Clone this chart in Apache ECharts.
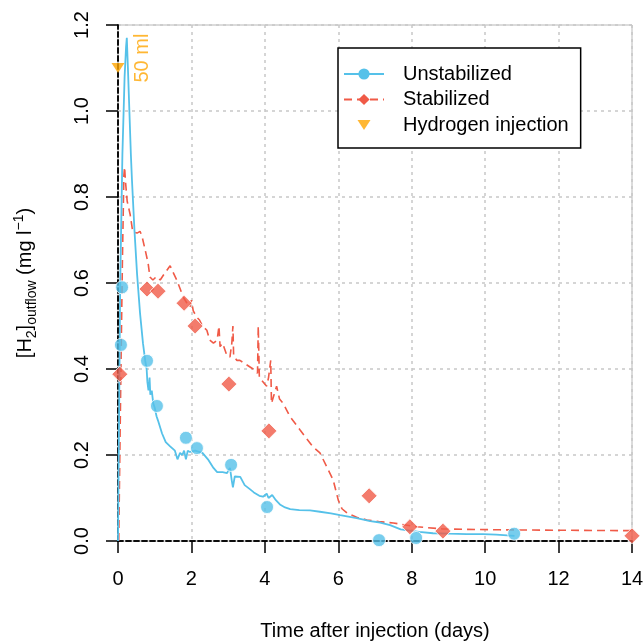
<!DOCTYPE html>
<html>
<head>
<meta charset="utf-8">
<script src="https://cdn.jsdelivr.net/npm/echarts@6/dist/echarts.min.js"></script>
<style>html,body{margin:0;padding:0;background:#fff}#c{width:644px;height:641px}</style>
</head>
<body>
<div id="c"></div>
<script>
// ---- data ----
const xTicks = [0, 2, 4, 6, 8, 10, 12, 14];
const yTickLabels = ['0.0', '0.2', '0.4', '0.6', '0.8', '1.0', '1.2'];

const unstabLine = [
  [0,0],[0.02,0.2],[0.06,0.6],[0.12,0.9],[0.18,1.08],[0.22,1.15],[0.24,1.17],[0.27,1.1],[0.31,1.0],
  [0.35,0.9],[0.38,0.84],[0.45,0.72],[0.52,0.62],[0.6,0.53],[0.68,0.46],[0.74,0.42],[0.78,0.40],
  [0.8,0.37],[0.83,0.35],[0.86,0.38],[0.88,0.34],[0.92,0.35],[0.96,0.32],[1.0,0.31],[1.05,0.29],
  [1.09,0.28],[1.2,0.25],[1.3,0.23],[1.42,0.22],[1.55,0.21],[1.62,0.19],[1.69,0.205],[1.75,0.2],
  [1.8,0.21],[1.85,0.19],[1.9,0.21],[1.96,0.207],[2.1,0.21],[2.3,0.205],[2.45,0.19],[2.6,0.17],
  [2.7,0.16],[2.85,0.16],[2.97,0.158],[3.05,0.17],[3.1,0.14],[3.13,0.125],[3.18,0.15],[3.33,0.149],
  [3.45,0.13],[3.6,0.12],[3.7,0.113],[3.85,0.105],[3.95,0.103],[4.05,0.11],[4.1,0.1],[4.2,0.107],
  [4.3,0.095],[4.41,0.085],[4.55,0.078],[4.69,0.074],[4.94,0.072],[5.23,0.071],[5.5,0.068],
  [5.8,0.064],[6.05,0.06],[6.5,0.053],[6.87,0.046],[7.14,0.043],[7.41,0.037],[7.7,0.027],
  [7.95,0.024],[8.2,0.021],[8.58,0.018],[9.0,0.017],[9.5,0.016],[9.94,0.016],[10.3,0.015],
  [10.6,0.013],[10.8,0.012]
];
const stabLine = [
  [0.02,0],[0.08,0.4],[0.12,0.65],[0.16,0.85],[0.18,0.87],[0.2,0.84],[0.25,0.79],[0.33,0.76],
  [0.4,0.72],[0.52,0.716],[0.6,0.72],[0.65,0.71],[0.74,0.677],[0.82,0.646],[0.87,0.614],[0.95,0.607],
  [1.05,0.615],[1.15,0.607],[1.25,0.62],[1.42,0.64],[1.5,0.625],[1.6,0.607],[1.7,0.585],[1.77,0.568],
  [1.9,0.55],[1.96,0.544],[2.0,0.56],[2.05,0.535],[2.15,0.52],[2.22,0.514],[2.3,0.5],[2.42,0.49],
  [2.5,0.467],[2.6,0.46],[2.7,0.467],[2.75,0.5],[2.78,0.452],[2.85,0.46],[2.97,0.43],[3.05,0.428],
  [3.1,0.46],[3.13,0.5],[3.15,0.43],[3.24,0.42],[3.32,0.42],[3.5,0.41],[3.68,0.40],[3.8,0.39],
  [3.82,0.5],[3.85,0.38],[3.87,0.38],[4.05,0.36],[4.1,0.38],[4.16,0.42],[4.18,0.32],[4.25,0.34],
  [4.32,0.36],[4.4,0.33],[4.5,0.32],[4.68,0.29],[4.96,0.258],[5.3,0.22],[5.5,0.205],[5.7,0.17],
  [5.86,0.142],[6.0,0.095],[6.1,0.075],[6.24,0.065],[6.5,0.055],[6.78,0.049],[7.1,0.045],[7.5,0.042],
  [8.14,0.033],[8.85,0.028],[9.5,0.027],[10.4,0.026],[12,0.025],[14,0.024]
];
const unstabPoints = [
  [0.11,0.59],[0.08,0.456],[0.79,0.419],[1.06,0.314],[1.85,0.24],[2.15,0.216],[3.08,0.177],
  [4.06,0.079],[7.11,0.002],[8.12,0.007],[10.79,0.017]
];
const stabPoints = [
  [0.05,0.388],[0.79,0.586],[1.09,0.581],[1.80,0.553],[2.10,0.50],[3.02,0.365],[4.11,0.256],
  [6.84,0.105],[7.95,0.033],[8.85,0.023],[14.0,0.012]
];
const injection = [[0, 1.1]];
const injectionLabel = [[0.68, 1.123]];
const injectionText = '50 ml';

// ---- chart ----
const BLUE = '#55C1E9', RED = '#F05A47', ORANGE = '#FFA500';
const FONT = 'Liberation Sans, Arial, sans-serif';
const downTri = 'path://M0,0L13,0L6.5,10Z';
const downTriLegend = 'path://M0,0M14,14M0.5,2L13.5,2L7,12Z';

const chart = echarts.init(document.getElementById('c'), null, {renderer: 'canvas'});
const dashedBlack = {show: true, lineStyle: {color: '#000', width: 1.5, type: [5, 3]}};
chart.setOption({
  animation: false,
  backgroundColor: '#fff',
  textStyle: {fontFamily: FONT},
  grid: {left: 118, right: 12, top: 25, bottom: 100, show: true, borderColor: '#b8b8b8', borderWidth: 1,
    containLabel: false, outerBoundsMode: 'none'},
  legend: {
    left: 338, top: 48, orient: 'vertical',
    padding: [16, 12, 13, 5],
    itemGap: 5.5, itemWidth: 40, itemHeight: 14,
    borderColor: '#000', borderWidth: 1.5, backgroundColor: '#fff',
    textStyle: {fontSize: 20, color: '#000', fontFamily: FONT, lineHeight: 20, padding: [0, 0, 0, 14]},
    data: [
      {name: 'Unstabilized'},
      {name: 'Stabilized'},
      {name: 'Hydrogen injection', icon: downTriLegend}
    ]
  },
  xAxis: [{
    type: 'value', min: 0, max: 14, interval: 2,
    axisLine: dashedBlack,
    axisTick: {show: true, inside: false, length: 12, lineStyle: {color: '#000', width: 1.5}},
    axisLabel: {fontSize: 20, color: '#000', margin: 28, fontFamily: FONT,
      formatter: v => xTicks.indexOf(v) >= 0 ? String(v) : ''},
    splitLine: {show: true, lineStyle: {color: '#c8c8c8', width: 1.5, type: [3, 4]}},
    name: 'Time after injection (days)', nameLocation: 'middle', nameGap: 80,
    nameTextStyle: {fontSize: 20, color: '#000', fontFamily: FONT}
  }, {
    type: 'value', min: 0, max: 14, interval: 2, position: 'top',
    axisLine: dashedBlack, axisTick: {show: false}, axisLabel: {show: false}, splitLine: {show: false}
  }],
  yAxis: [{
    type: 'value', min: 0, max: 1.2, interval: 0.2,
    axisLine: dashedBlack,
    axisTick: {show: true, inside: false, length: 12, lineStyle: {color: '#000', width: 1.5}},
    axisLabel: {fontSize: 20, color: '#000', margin: 26, rotate: 90, fontFamily: FONT,
      formatter: v => yTickLabels[Math.round(v / 0.2)]},
    splitLine: {show: true, lineStyle: {color: '#c8c8c8', width: 1.5, type: [3, 4]}},
    name: '{m|[H}{s|2}{m|]}{s|outflow}{m| (mg l}{p|−1}{m|)}',
    nameLocation: 'middle', nameGap: 78, nameRotate: 90,
    nameTextStyle: {
      color: '#000', fontFamily: FONT,
      rich: {
        m: {fontSize: 20, lineHeight: 30, color: '#000', fontFamily: FONT},
        s: {fontSize: 14, lineHeight: 14, verticalAlign: 'bottom', padding: [0, 0, 1, 0], color: '#000', fontFamily: FONT},
        p: {fontSize: 14, lineHeight: 14, verticalAlign: 'top', padding: [2, 0, 0, 0], color: '#000', fontFamily: FONT}
      }
    }
  }, {
    type: 'value', min: 0, max: 1.2, interval: 0.2, position: 'right',
    axisLine: dashedBlack, axisTick: {show: false}, axisLabel: {show: false}, splitLine: {show: false}
  }],
  series: [
    {
      name: 'Stabilized', type: 'line', data: stabLine, symbol: 'diamond', showSymbol: false,
      color: RED, itemStyle: {color: RED},
      lineStyle: {color: RED, width: 1.6, type: [8, 5]}, z: 2, silent: true
    },
    {
      name: 'Unstabilized', type: 'line', data: unstabLine, symbol: 'circle', showSymbol: false,
      color: BLUE, itemStyle: {color: BLUE},
      lineStyle: {color: BLUE, width: 1.8}, z: 3, silent: true
    },
    {
      name: 'Stabilized samples', type: 'scatter', data: stabPoints, symbol: 'diamond', symbolSize: 16,
      itemStyle: {color: RED, borderColor: '#fff', borderWidth: 1}, z: 4, silent: true
    },
    {
      name: 'Unstabilized samples', type: 'scatter', data: unstabPoints, symbol: 'circle', symbolSize: 13,
      itemStyle: {color: BLUE, borderColor: '#fff', borderWidth: 1}, z: 5, silent: true
    },
    {
      name: 'Hydrogen injection', type: 'scatter', data: injection, symbol: downTri, symbolSize: [13, 10],
      itemStyle: {color: ORANGE}, z: 6, silent: true
    },
    {
      name: 'annotation', type: 'scatter', data: injectionLabel, symbolSize: 0, z: 6, silent: true,
      label: {show: true, position: 'inside', rotate: 90, formatter: injectionText,
        color: ORANGE, fontSize: 20, fontFamily: FONT}
    }
  ]
});
</script>
</body>
</html>
